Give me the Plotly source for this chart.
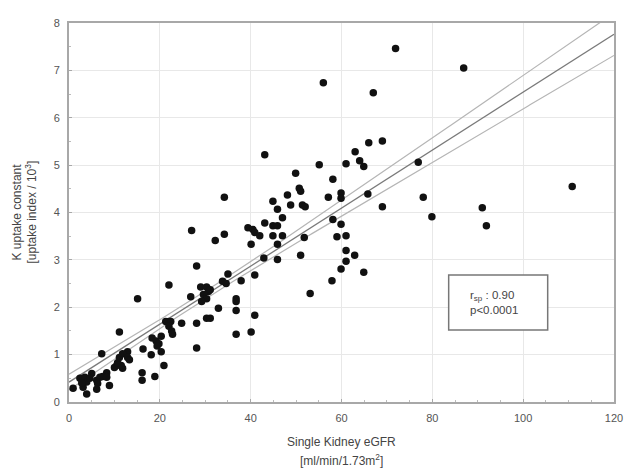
import numpy as np
import plotly.graph_objects as go

# Data: single kidney eGFR (x) vs K uptake constant (y)
egfr = [0.9, 3.1, 3.9, 2.4, 3.5, 3.9, 5.0, 4.6, 6.1, 6.3, 6.1, 8.3, 7.4, 8.9, 7.2,
        10.0, 11.8, 10.5, 11.5, 10.7, 11.1, 12.9, 11.8, 12.9, 13.3, 11.1, 16.3, 18.1,
        20.3, 20.9, 16.1, 16.1, 18.9, 18.3, 19.2, 20.3, 19.8, 19.4, 15.1, 21.3, 22.0,
        22.4, 22.0, 22.6, 24.8, 28.1, 28.1, 22.0, 26.8, 28.1, 29.0, 30.3, 30.7, 29.6,
        30.3, 29.2, 31.1, 30.3, 31.1, 32.9, 35.0, 33.8, 34.6, 37.9, 36.8, 36.8, 36.8,
        40.9, 36.8, 40.1, 40.9, 27.0, 32.2, 34.2, 34.2, 39.4, 40.5, 40.9, 42.0, 40.1,
        43.1, 44.9, 45.9, 44.9, 47.0, 45.9, 47.0, 45.9, 44.9, 48.8, 51.4, 52.0, 48.1,
        50.7, 51.0, 49.9, 43.1, 51.8, 51.0, 42.9, 45.9, 53.1, 55.1, 57.1, 58.1, 59.9,
        59.9, 58.1, 59.9, 59.0, 61.0, 61.0, 62.9, 61.0, 59.9, 64.9, 57.9, 61.0, 63.0,
        64.0, 64.9, 66.0, 69.0, 65.8, 69.0, 56.0, 67.0, 71.9, 86.9, 76.9, 78.0, 79.9,
        91.0, 91.9, 110.8, 22.8, 2.8, 6.8, 8.3]
k_uptake = [0.29, 0.31, 0.17, 0.50, 0.52, 0.42, 0.60, 0.50, 0.46, 0.39, 0.27, 0.62, 0.54,
            0.35, 1.02, 0.73, 0.71, 0.77, 0.77, 0.83, 0.94, 1.06, 1.02, 0.94, 0.89, 1.48,
            1.12, 1.00, 1.06, 0.77, 0.62, 0.46, 0.54, 1.35, 1.29, 1.39, 1.23, 1.18, 2.18,
            1.70, 1.70, 1.70, 1.60, 1.50, 1.66, 1.66, 1.14, 2.47, 2.22, 2.87, 2.43, 2.43,
            2.33, 2.27, 2.18, 2.12, 2.37, 1.77, 1.77, 1.98, 2.70, 2.55, 2.50, 2.56, 2.18,
            2.12, 1.93, 1.83, 1.43, 1.48, 2.68, 3.62, 3.41, 3.54, 4.32, 3.68, 3.64, 3.58,
            3.51, 3.33, 3.78, 3.72, 3.72, 3.51, 3.51, 3.33, 3.89, 4.07, 4.24, 4.16, 4.16,
            4.12, 4.37, 4.51, 4.45, 4.83, 5.22, 3.47, 3.10, 3.04, 3.01, 2.29, 5.01, 4.32,
            4.70, 4.41, 4.30, 3.85, 3.75, 3.49, 3.51, 3.20, 3.10, 2.97, 2.81, 2.74, 2.56,
            5.03, 5.28, 5.09, 4.97, 5.47, 5.51, 4.39, 4.12, 6.74, 6.53, 7.46, 7.05, 5.06,
            4.32, 3.91, 4.10, 3.72, 4.55, 1.43, 0.40, 0.52, 0.52]

# Regression line and its confidence band
fit_intercept = 0.42
fit_slope = 0.0612
ci_center = 30.0
ci_min_half = 0.08
ci_growth = 0.0049
x_range = [0, 120]
y_range = [0, 8]
x_ticks = [0, 20, 40, 60, 80, 100, 120]
y_ticks = [0, 1, 2, 3, 4, 5, 6, 7, 8]
stat_text = "r<sub>sp</sub> : 0.90<br>p&lt;0.0001"
box_x = [83.6, 105.4]
box_y = [1.52, 2.68]

xl = np.linspace(x_range[0], x_range[1], 241)
yl = fit_intercept + fit_slope * xl
half = np.sqrt(ci_min_half ** 2 + (ci_growth * (xl - ci_center)) ** 2)

fig = go.Figure()
fig.add_trace(go.Scatter(x=xl, y=yl + half, mode="lines",
                         line=dict(color="#b5b5b5", width=1.2), hoverinfo="skip"))
fig.add_trace(go.Scatter(x=xl, y=yl - half, mode="lines",
                         line=dict(color="#b5b5b5", width=1.2), hoverinfo="skip"))
fig.add_trace(go.Scatter(x=xl, y=yl, mode="lines",
                         line=dict(color="#7a7a7a", width=1.3), hoverinfo="skip"))
fig.add_trace(go.Scatter(x=egfr, y=k_uptake, mode="markers",
                         marker=dict(color="#111111", size=7.5, line=dict(width=0))))

fig.add_shape(type="rect", xref="x", yref="y", x0=box_x[0], x1=box_x[1],
              y0=box_y[0], y1=box_y[1], line=dict(color="#777777", width=1.5),
              fillcolor="white", layer="above")
fig.add_annotation(x=box_x[0] + 4.2, y=(box_y[0] + box_y[1]) / 2, xref="x", yref="y",
                   text=stat_text, showarrow=False, xanchor="left", align="left",
                   font=dict(size=11.5, color="#444444"))

font_family = "Arial, Liberation Sans, sans-serif"
fig.add_annotation(x=0.5, y=0, xref="paper", yref="paper", yshift=-40,
                   text="Single Kidney eGFR", showarrow=False, yanchor="middle",
                   font=dict(size=12, color="#444444"))
fig.add_annotation(x=0.5, y=0, xref="paper", yref="paper", yshift=-58,
                   text="[ml/min/1.73m<sup>2</sup>]", showarrow=False, yanchor="middle",
                   font=dict(size=12, color="#444444"))
fig.add_annotation(x=0, y=0.5, xref="paper", yref="paper", xshift=-53,
                   text="K uptake constant", showarrow=False, textangle=-90,
                   xanchor="center", font=dict(size=12, color="#444444"))
fig.add_annotation(x=0, y=0.5, xref="paper", yref="paper", xshift=-39,
                   text="[uptake index / 10<sup>3</sup>]", showarrow=False, textangle=-90,
                   xanchor="center", font=dict(size=12, color="#444444"))

axis_common = dict(showline=True, mirror=True, linecolor="#a8a8a8", linewidth=2,
                   showgrid=True, gridcolor="#e8e8e8", gridwidth=1, zeroline=False,
                   ticks="inside", ticklen=3, tickcolor="#a8a8a8",
                   tickfont=dict(size=11, color="#555555"), ticklabelstandoff=5)
fig.update_xaxes(range=x_range, tickvals=x_ticks,
                 minor=dict(dtick=5, ticks="inside", ticklen=2, tickcolor="#bbbbbb", showgrid=False),
                 **axis_common)
fig.update_yaxes(range=y_range, tickvals=y_ticks,
                 minor=dict(dtick=0.5, ticks="inside", ticklen=2, tickcolor="#bbbbbb", showgrid=False),
                 **axis_common)

# The page adds an 8px body margin, so the figure is 8px smaller on each side.
fig.update_layout(width=624, height=464, showlegend=False,
                  paper_bgcolor="white", plot_bgcolor="white",
                  margin=dict(l=61, r=12, t=9, b=70),
                  font=dict(family=font_family, color="#444444"))

fig.write_html("out.html")
